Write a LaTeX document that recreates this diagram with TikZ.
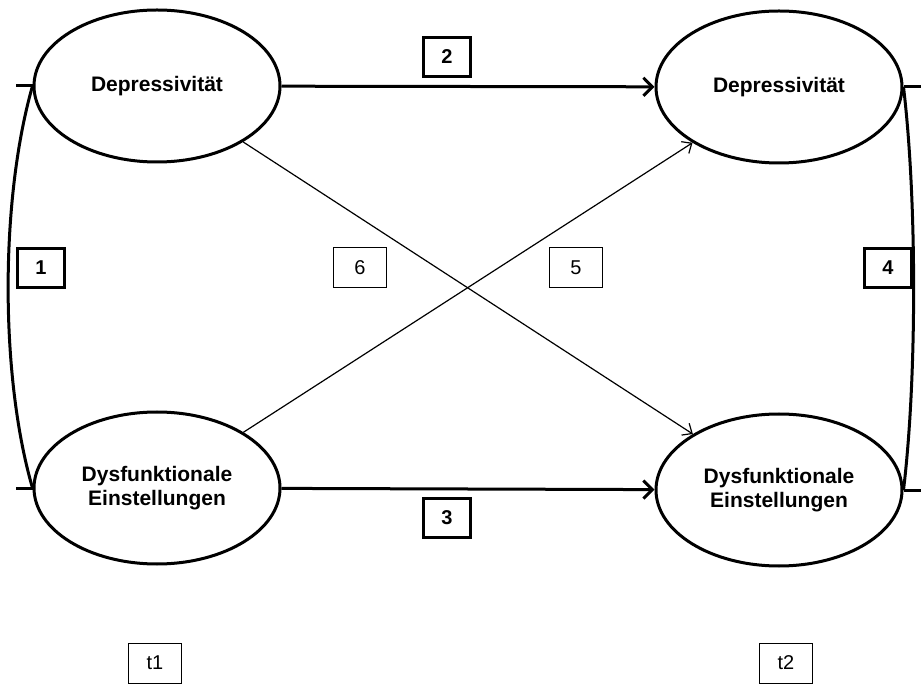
\documentclass[tikz,border=0pt]{standalone}
\usepackage{fontspec}
\setmainfont{Liberation Sans}
\usetikzlibrary{arrows.meta,shapes.geometric}
\tikzset{
  latent/.style={draw, ellipse, line width=3pt, minimum width=246pt, minimum height=152pt, inner sep=0pt, align=center, font=\fontsize{21}{24}\selectfont\bfseries},
  boldbox/.style={draw, line width=2.5pt, minimum width=47pt, minimum height=39pt, inner sep=0pt, font=\fontsize{20}{24}\selectfont\bfseries},
  thinbox/.style={draw, line width=1pt, minimum width=53pt, minimum height=40pt, inner sep=0pt, font=\fontsize{20}{24}\selectfont},
  thickarrow/.style={line width=3pt, -{Straight Barb[length=9pt,width=18pt,line width=3pt]}},
  thinarrow/.style={line width=1.2pt, -{Straight Barb[length=8pt,width=14pt,line width=1.2pt]}},
  curveline/.style={line width=3pt}
}
\begin{document}
\begin{tikzpicture}[x=1pt,y=-1pt]
\useasboundingbox (0,0) rectangle (921,684);
\node[latent] (d1) at (157,86) {Depressivität};
\node[latent] (d2) at (779,87) {Depressivität};
\node[latent] (e1) at (157,488) {Dysfunktionale\\Einstellungen};
\node[latent] (e2) at (779,490) {Dysfunktionale\\Einstellungen};

\draw[thickarrow] (d1) -- (d2);
\draw[thickarrow] (e1) -- (e2);
\draw[thinarrow] (d1) -- (e2);
\draw[thinarrow] (e1) -- (d2);

\coordinate (l1) at (16,86);
\coordinate (l2) at (16,488);
\coordinate (r1) at (921,87);
\coordinate (r2) at (921,490);
\draw[curveline] (l1) -- (d1.west);
\draw[curveline] (l2) -- (e1.west);
\draw[curveline] (d1.west) .. controls (0,200) and (0,376) .. (e1.west);
\draw[curveline] (r1) -- (d2.east);
\draw[curveline] (r2) -- (e2.east);
\draw[curveline] (d2.east) .. controls (917,200) and (917,378) .. (e2.east);

\node[boldbox] (b1) at (41,268) {1};
\node[boldbox] (b2) at (447,57) {2};
\node[boldbox] (b3) at (447,518) {3};
\node[boldbox] (b4) at (888,268) {4};
\node[thinbox] (b5) at (576,268) {5};
\node[thinbox] (b6) at (360,268) {6};
\node[thinbox] (t1) at (155,663) {t1};
\node[thinbox] (t2) at (786,663) {t2};
\end{tikzpicture}
\end{document}
